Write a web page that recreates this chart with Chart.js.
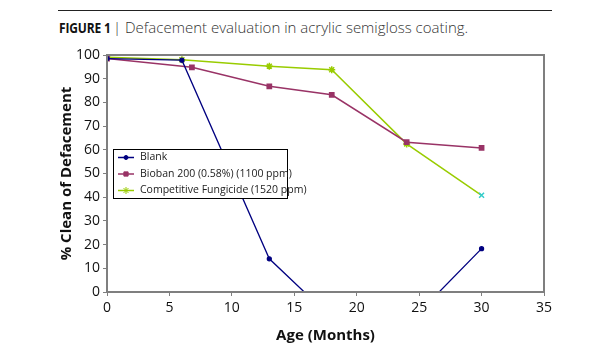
<!DOCTYPE html>
<html>
<head>
<meta charset="utf-8">
<script src="https://cdn.jsdelivr.net/npm/chart.js@4"></script>
<style>
  body { margin: 0; background: #fff; }
  #wrap { position: relative; width: 615px; height: 350px; }
  #rule { position: absolute; left: 58px; top: 10px; width: 494px; height: 0; border-top: 1.5px solid #222; }
  .ttl { position: absolute; top: 17px; font-family: "Open Sans", sans-serif; white-space: nowrap; }
  #fig { left: 59px; font-size: 15px; font-weight: bold; color: #111; transform: scaleX(0.8); transform-origin: left; letter-spacing: -0.2px; }
  #cap { left: 113px; font-size: 15px; font-weight: 300; color: #333; }
  canvas { position: absolute; left: 0; top: 0; }
</style>
</head>
<body>
<div id="wrap">
  <div id="rule"></div>
  <div class="ttl" id="fig">FIGURE 1</div>
  <div class="ttl" id="cap">| Defacement evaluation in acrylic semigloss coating.</div>
  <canvas id="c" width="615" height="350"></canvas>
</div>
<script>
// months of exposure
var blankAges = [0, 6, 13, 18, 24, 30];
var blank = [98.5, 97.8, 14, -11, -14, 18.3];
var biobanAges = [0, 6.8, 13, 18, 24, 30];
var bioban = [98.5, 94.8, 86.8, 83.2, 63.2, 60.8];
var fungAges = [0, 6, 13, 18, 24, 30];
var fungicide = [99, 98, 95.3, 93.8, 62.5, 40.8];
var xTicks = [0, 5, 10, 15, 20, 25, 30, 35];
var seriesNames = ['Blank', 'Bioban 200 (0.58%) (1100 ppm)', 'Competitive Fungicide (1520 ppm)'];

function pts(xs, ys) {
  return xs.map(function (x, i) { return { x: x, y: ys[i] }; });
}

var fungStyles = fungicide.map(function (v, i) { return i == fungicide.length - 1 ? 'crossRot' : 'star'; });
var fungColors = fungicide.map(function (v, i) { return i == fungicide.length - 1 ? '#33cccc' : '#99cc00'; });

// plot frame + legend box drawn by hand
var framePlugin = {
  id: 'frame',
  afterDraw: function (chart) {
    var ctx = chart.ctx, a = chart.chartArea;
    ctx.save();
    ctx.strokeStyle = '#7f7f7f';
    ctx.lineWidth = 2;
    ctx.strokeRect(a.left, a.top, a.right - a.left, a.bottom - a.top);

    // legend
    var lx = 113, ly = 149, lw = 174, lh = 49;
    ctx.fillStyle = '#fff';
    ctx.fillRect(lx, ly, lw, lh);
    ctx.strokeStyle = '#000';
    ctx.lineWidth = 1;
    ctx.strokeRect(lx + 0.5, ly + 0.5, lw, lh);
    ctx.font = '10.5px "Open Sans", sans-serif';
    ctx.textBaseline = 'middle';
    chart.data.datasets.forEach(function (ds, i) {
      var y = ly + 8.5 + i * 16.5;
      ctx.strokeStyle = ds.borderColor;
      ctx.lineWidth = 1.5;
      ctx.beginPath();
      ctx.moveTo(lx + 5, y);
      ctx.lineTo(lx + 21, y);
      ctx.stroke();
      var st = Array.isArray(ds.pointStyle) ? ds.pointStyle[0] : ds.pointStyle;
      var col = Array.isArray(ds.pointBorderColor) ? ds.pointBorderColor[0] : ds.pointBorderColor;
      ctx.fillStyle = col;
      ctx.strokeStyle = col;
      ctx.lineWidth = 1;
      Chart.helpers.drawPoint(ctx, { pointStyle: st, radius: ds.pointRadius, borderWidth: 1 }, lx + 13, y);
      ctx.fillStyle = '#222';
      ctx.fillText(ds.label, lx + 27, y);
    });
    ctx.restore();
  }
};

new Chart(document.getElementById('c'), {
  type: 'line',
  data: {
    datasets: [{
      label: seriesNames[0],
      data: pts(blankAges, blank),
      borderColor: '#000080',
      backgroundColor: '#000080',
      pointBorderColor: '#000080',
      pointStyle: 'circle',
      pointRadius: 2,
      borderWidth: 1.3
    }, {
      label: seriesNames[1],
      data: pts(biobanAges, bioban),
      borderColor: '#993366',
      backgroundColor: '#993366',
      pointBorderColor: '#993366',
      pointStyle: 'rect',
      pointRadius: 3,
      borderWidth: 1.5
    }, {
      label: seriesNames[2],
      data: pts(fungAges, fungicide),
      borderColor: '#99cc00',
      backgroundColor: '#99cc00',
      pointBorderColor: fungColors,
      pointStyle: fungStyles,
      pointRadius: 3.5,
      borderWidth: 1.5
    }]
  },
  options: {
    responsive: false,
    animation: false,
    layout: { padding: { left: 58, top: 55, right: 71, bottom: 5 } },
    plugins: { legend: { display: false }, tooltip: { enabled: false } },
    scales: {
      x: {
        type: 'linear',
        min: 0, max: 35,
        afterBuildTicks: function (s) { s.ticks = xTicks.map(function (v) { return { value: v }; }); },
        afterFit: function (s) { s.height = 53; },
        grid: { drawOnChartArea: false, tickLength: 4, color: '#7f7f7f' },
        border: { color: '#7f7f7f', width: 2 },
        ticks: { color: '#111', padding: 4, font: { family: 'Open Sans', size: 14 } },
        title: { display: true, text: 'Age (Months)', color: '#111', padding: 0, font: { family: 'Open Sans', size: 15, weight: 'bold' } }
      },
      y: {
        min: 0, max: 100,
        afterFit: function (s) { s.width = 49; },
        grid: { drawOnChartArea: false, tickLength: 4, color: '#7f7f7f' },
        border: { color: '#7f7f7f', width: 2 },
        ticks: { stepSize: 10, color: '#111', padding: 3, font: { family: 'Open Sans', size: 14 } },
        title: { display: true, text: '% Clean of Defacement', color: '#111', padding: 0, font: { family: 'Open Sans', size: 15, weight: 'bold' } }
      }
    }
  },
  plugins: [framePlugin]
});
</script>
</body>
</html>
